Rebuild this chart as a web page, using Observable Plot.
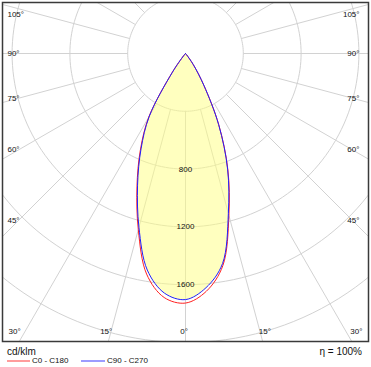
<!DOCTYPE html>
<html><head><meta charset="utf-8">
<script src="https://cdn.jsdelivr.net/npm/d3@7"></script>
<script src="https://cdn.jsdelivr.net/npm/@observablehq/plot@0.6"></script>
<style>
body{margin:0;background:#fff;font-family:"Liberation Sans",Arial,sans-serif;color:#111;}
#page{width:371px;height:367px;position:relative;overflow:hidden;}
#legend{position:relative;width:371px;height:24px;}
#legend div{position:absolute;white-space:nowrap;}
.sw{height:2px;}
</style></head><body>
<div id="page">
<div id="chart"></div>
<div id="legend">
  <div id="unit" style="left:7px;top:3px;font-size:10px;line-height:12px;"></div>
  <div id="eta" style="right:9px;top:3px;font-size:10px;line-height:12px;"></div>
  <div class="sw" style="left:7px;top:17px;width:23px;background:#ff9c9c;"></div>
  <div id="lab0" style="left:32px;top:13px;font-size:8px;line-height:10px;"></div>
  <div class="sw" style="left:81px;top:17px;width:24px;background:#9c9cff;"></div>
  <div id="lab1" style="left:107px;top:13px;font-size:8px;line-height:10px;"></div>
</div>
</div>
<script>
// Data (cd/klm), gamma negative = left half of the diagram
const gammas  = [-90,-85,-80,-75,-70,-65,-60,-55,-50,-45,-40,-35,-30,-25,-20,-15,-10,-5,0,5,10,15,20,25,30,35,40,45,50,55,60,65,70,75,80,85,90];
const c0c180  = [0,0,0,0,0,0,0,0,0,0,20,160,508,740,982,1262,1550,1695,1727,1652,1490,1160,858,545,255,95,12,0,0,0,0,0,0,0,0,0,0];
const c90c270 = [0,0,0,0,0,0,0,0,0,0,20,155,500,728,970,1245,1522,1665,1703,1627,1476,1146,852,542,252,94,12,0,0,0,0,0,0,0,0,0,0];
const seriesNames = ["C0 - C180", "C90 - C270"];
const ringValues = [400, 800, 1200, 1600, 2000, 2400];
const ringLabelValues = [800, 1200, 1600];
const sideLabelAngles = [105, 90, 75, 60, 45];
const bottomLabelAngles = [-30, -15, 0, 15, 30];
const unitText = "cd/klm";
const etaText = "\u03b7 = 100%";

const rad = d => d * Math.PI / 180;
const px = 0.1445; // pixels per cd/klm
const X = (g, v) => v * Math.sin(rad(g));
const Y = (g, v) => v * Math.cos(rad(g));

function curvePoints(vals, name) {
  const pts = [];
  vals.forEach((v, i) => {
    const keep = v > 0 || (i > 0 && vals[i-1] > 0) || (i < vals.length-1 && vals[i+1] > 0);
    if (keep) pts.push({x: X(gammas[i], v), y: Y(gammas[i], v), s: name});
  });
  return pts;
}
const red = curvePoints(c0c180, seriesNames[0]);
const blue = curvePoints(c90c270, seriesNames[1]);

const ringPts = ringValues.flatMap(r => d3.range(0, 362, 2).map(a => ({x: X(a, r), y: Y(a, r), r})));
const spokes = d3.range(0, 360, 15).map(a => ({x1: X(a, 400), y1: Y(a, 400), x2: X(a, 4000), y2: Y(a, 4000)}));

const sideD = 167 / px, topLimit = -270;
const sideLabels = sideLabelAngles.flatMap(a => {
  const y = Math.max(topLimit, sideD / Math.tan(rad(a)));
  return [{x: -1232, y, t: a + "°", anchor: "start"}, {x: 1204, y, t: a + "°", anchor: "end"}];
});
const bottomD = 296 / px, bottomY = 278 / px;
const bottomLabels = bottomLabelAngles.map(a => ({x: bottomD * Math.tan(rad(a)) - (a === 0 ? 10 : 0), y: bottomY, t: Math.abs(a) + "°"}));

const chart = Plot.plot({
  width: 371, height: 343,
  marginLeft: 2, marginRight: 3, marginTop: 2, marginBottom: 2,
  x: {domain: [-1266.4, 1266.4], axis: null},
  y: {domain: [-352.9, 1993.1], reverse: true, axis: null},
  style: {fontFamily: "'Liberation Sans', Arial, sans-serif", background: "#fff"},
  marks: [
    Plot.line(ringPts, {x: "x", y: "y", z: "r", stroke: "#d2d2d2", strokeWidth: 1, clip: true}),
    Plot.link(spokes, {x1: "x1", y1: "y1", x2: "x2", y2: "y2", stroke: "#d2d2d2", strokeWidth: 1, clip: true}),
    Plot.line(blue, {x: "x", y: "y", fill: "#ffff80", fillOpacity: 0.5, stroke: "none", curve: "catmull-rom"}),
    Plot.line(red, {x: "x", y: "y", stroke: "#ff2020", strokeWidth: 1, curve: "catmull-rom"}),
    Plot.line(blue, {x: "x", y: "y", stroke: "#2020ff", strokeWidth: 1, curve: "catmull-rom"}),
    Plot.text(ringLabelValues, {x: 0, y: d => d, text: d => String(d), fontSize: 8, fill: "#111"}),
    Plot.text(sideLabels.filter(d => d.anchor === "start"), {x: "x", y: "y", text: "t", textAnchor: "start", fontSize: 8, fill: "#111"}),
    Plot.text(sideLabels.filter(d => d.anchor === "end"), {x: "x", y: "y", text: "t", textAnchor: "end", fontSize: 8, fill: "#111"}),
    Plot.text(bottomLabels, {x: "x", y: "y", text: "t", textAnchor: "middle", fontSize: 8, fill: "#111"}),
    Plot.frame({stroke: "#3a3a3a", strokeWidth: 1.5})
  ]
});
document.getElementById("chart").appendChild(chart);
document.getElementById("unit").textContent = unitText;
document.getElementById("eta").textContent = etaText;
document.getElementById("lab0").textContent = seriesNames[0];
document.getElementById("lab1").textContent = seriesNames[1];
</script>
</body></html>
